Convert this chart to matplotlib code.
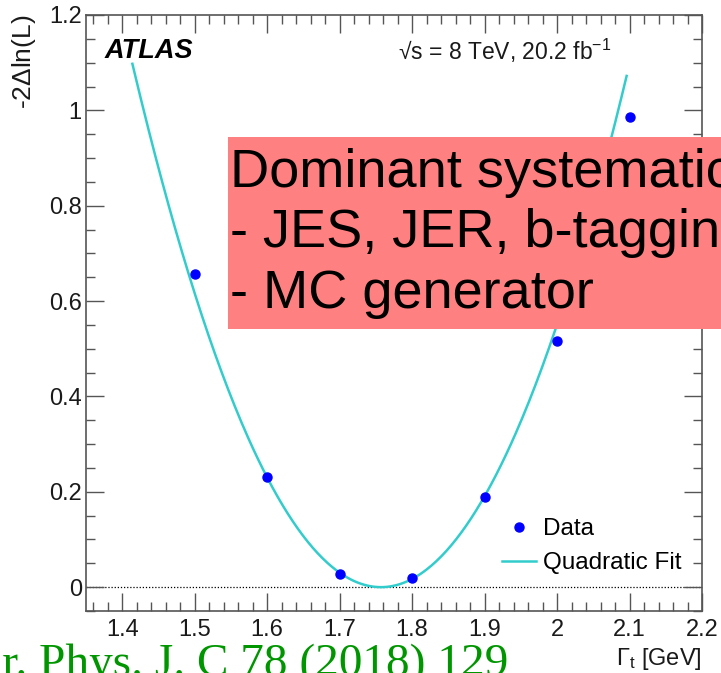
import numpy as np
import matplotlib
matplotlib.use("Agg")
import matplotlib.pyplot as plt
from matplotlib.ticker import MultipleLocator, FuncFormatter
from matplotlib.patches import Rectangle

# measured points (top width scan)
gamma_t = [1.5, 1.6, 1.7, 1.8, 1.9, 2.0, 2.1]
nll = [0.657, 0.232, 0.027, 0.019, 0.189, 0.516, 0.987]

# quadratic fit: a * (x - x0)^2, drawn over its fit range
fit_a = 9.33
fit_x0 = 1.757
fit_lo, fit_hi = 1.414, 2.096

box_lines = ["Dominant systematics:", "- JES, JER, b-tagging", "- MC generator"]
citation = "Eur. Phys. J. C 78 (2018) 129"

plt.rcParams['font.family'] = ['Liberation Sans', 'DejaVu Sans']
plt.rcParams['mathtext.fontset'] = 'custom'
plt.rcParams['mathtext.rm'] = 'Liberation Sans'
plt.rcParams['mathtext.it'] = 'Liberation Sans:italic'

W, H = 721, 673
fig = plt.figure(figsize=(W / 100, H / 100), dpi=100)
ax = fig.add_axes([86 / W, 1 - 611 / H, (702 - 86) / W, (611 - 15) / H])

xs = np.linspace(fit_lo, fit_hi, 300)
ax.plot(xs, fit_a * (xs - fit_x0) ** 2, color='#33cccc', lw=1.8, label='Quadratic Fit')
ax.plot(gamma_t, nll, 'o', color='#0000ff', ms=6.5, ls='none', label='Data')
ax.axhline(0, color='black', ls=(0, (1, 1.5)), lw=0.9, zorder=1)

ax.set_xlim(1.35, 2.2)
ax.set_ylim(-0.05, 1.2)
ax.xaxis.set_major_locator(MultipleLocator(0.1))
ax.xaxis.set_minor_locator(MultipleLocator(0.02))
ax.yaxis.set_major_locator(MultipleLocator(0.2))
ax.yaxis.set_minor_locator(MultipleLocator(0.05))
fmt = FuncFormatter(lambda v, p: '%g' % round(v, 3))
ax.xaxis.set_major_formatter(fmt)
ax.yaxis.set_major_formatter(fmt)
ax.tick_params(which='both', direction='in', top=True, right=True, color='#555555',
               labelsize=17, labelcolor='#1a1a1a')
ax.tick_params(which='major', length=13, width=1.0)
ax.tick_params(which='minor', length=6.5, width=1.0)
ax.tick_params(axis='x', pad=6)
ax.tick_params(axis='y', pad=3)
for s in ax.spines.values():
    s.set_color('#555555')
    s.set_linewidth(1.2)

ax.set_ylabel('-2$\\Delta$ln(L)', loc='top', fontsize=19, labelpad=8, color='#1a1a1a')
ax.set_xlabel('$\\Gamma_{\\rm t}$ [GeV]', loc='right', fontsize=17, labelpad=3, color='#1a1a1a')

h, l = ax.get_legend_handles_labels()
ax.legend([h[1], h[0]], [l[1], l[0]], loc='upper left', bbox_to_anchor=(502 / W, 1 - 518 / H),
          bbox_transform=fig.transFigure, frameon=False, fontsize=17.5, borderpad=0,
          borderaxespad=0, handlelength=1.4, handletextpad=0.3, labelspacing=0.5)

fig.text(105 / W, 1 - 58 / H, 'ATLAS', fontsize=19.5, fontweight='bold', style='italic',
         va='baseline')
fig.text(398 / W, 1 - 60 / H, '\u221as = 8 TeV, 20.2 fb$^{-1}$', fontsize=16.5,
         va='baseline', color='#1a1a1a')

# red box overlay from the slide
fig.add_artist(Rectangle((228 / W, 1 - 329 / H), 1.0, 192 / H, transform=fig.transFigure,
                         facecolor='#ff8080', edgecolor='none', zorder=5))
for i, line in enumerate(box_lines):
    fig.text(230 / W, 1 - (187 + 60.5 * i) / H, line, fontsize=39, va='baseline',
             color='black', zorder=6)

fig.text(508 / W, 1 - 676 / H, citation, fontsize=34, family='Liberation Serif',
         color='#009600', ha='right', va='baseline')

fig.savefig('out.png', dpi=100)
